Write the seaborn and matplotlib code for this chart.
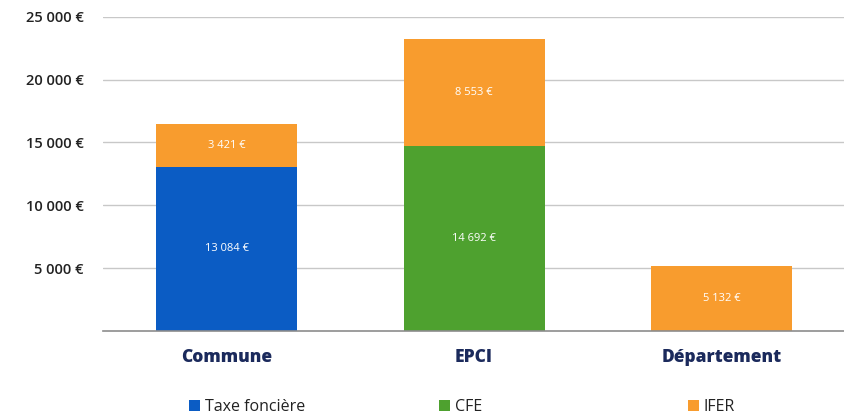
import matplotlib
matplotlib.use("Agg")
import matplotlib.pyplot as plt
import seaborn as sns
import pandas as pd
from matplotlib.patches import Patch

# Données
categories = ["Commune", "EPCI", "Département"]
taxe_fonciere = [13084, 0, 0]
cfe = [0, 14692, 0]
ifer = [3421, 8553, 5132]
yticks = [5000, 10000, 15000, 20000, 25000]

BLUE = "#0B5CC4"
GREEN = "#4EA12F"
ORANGE = "#F89C2E"
NAVY = "#1B2A5C"

sns.set_theme(style="white")
plt.rcParams["font.family"] = ["Open Sans", "DejaVu Sans"]


def fmt_eur(v):
    return f"{v:,.0f} €".replace(",", " ")


df = pd.DataFrame({
    "categorie": categories,
    "taxe": taxe_fonciere,
    "cfe": cfe,
    "ifer": ifer,
})
df["base"] = df["taxe"] + df["cfe"]
df["total"] = df["base"] + df["ifer"]

fig = plt.figure(figsize=(8.45, 4.2), dpi=100)
ax = fig.add_axes([0.122, 0.212, 0.878, 0.748])

# Barres empilées : total (IFER) puis base par-dessus
sns.barplot(data=df, x="categorie", y="total", color=ORANGE, width=0.57,
            saturation=1, linewidth=0, ax=ax, zorder=3)
sns.barplot(data=df, x="categorie", y="base", hue="categorie",
            palette=[BLUE, GREEN, ORANGE], width=0.57, saturation=1,
            linewidth=0, legend=False, ax=ax, zorder=3)

# Étiquettes des valeurs
for i, row in df.iterrows():
    if row["base"] > 0:
        ax.text(i, row["base"] / 2, fmt_eur(row["base"]), ha="center",
                va="center", color="white", fontsize=8, zorder=4)
    ax.text(i, row["base"] + row["ifer"] / 2, fmt_eur(row["ifer"]),
            ha="center", va="center", color="white", fontsize=8, zorder=4)

ax.set_ylim(0, 25000)
ax.set_xlim(-0.5, 2.5)
ax.set_yticks(yticks)
ax.set_yticklabels([fmt_eur(v) for v in yticks], fontsize=10.5,
                   color="#222222", fontweight="semibold")
ax.tick_params(axis="y", length=0, pad=14)
ax.tick_params(axis="x", length=0, pad=13)
for lab in ax.get_xticklabels():
    lab.set_fontsize(12.5)
    lab.set_fontweight("heavy")
    lab.set_color(NAVY)
ax.set_xlabel("")
ax.set_ylabel("")
ax.yaxis.grid(True, color="#C8C8C8", linewidth=1, zorder=0)
ax.set_axisbelow(True)
for side in ["top", "right", "left"]:
    ax.spines[side].set_visible(False)
ax.spines["bottom"].set_color("#8C8C8C")
ax.spines["bottom"].set_linewidth(1.2)
ax.spines["bottom"].set_zorder(5)

# Légende
legend_items = [("Taxe foncière", BLUE, 0.207), ("CFE", GREEN, 0.502),
                ("IFER", ORANGE, 0.797)]
for label, col, xpos in legend_items:
    fig.legend(handles=[Patch(facecolor=col, edgecolor="none", label=label)],
               loc="center left", bbox_to_anchor=(xpos, 0.03), frameon=False,
               fontsize=11.5, handlelength=0.7, handleheight=0.7,
               handletextpad=0.3, labelcolor="#222222")

fig.savefig("out.png", dpi=100)
